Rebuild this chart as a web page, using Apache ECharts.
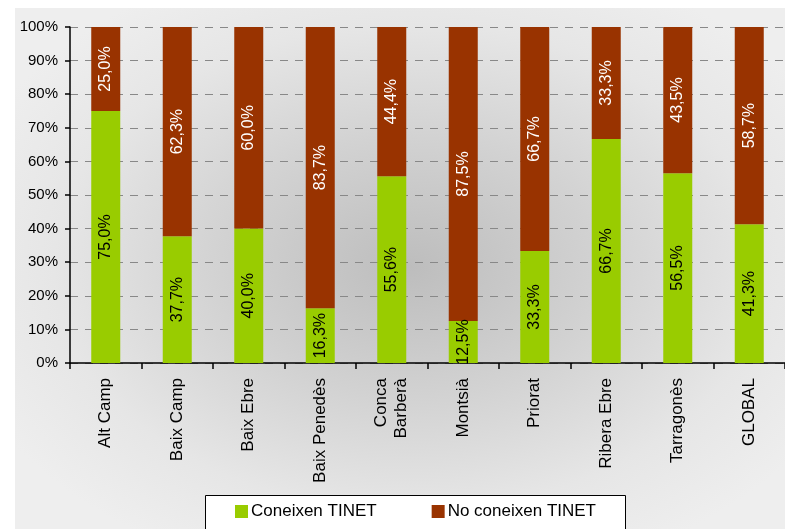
<!DOCTYPE html>
<html>
<head>
<meta charset="utf-8">
<script src="https://cdn.jsdelivr.net/npm/echarts@6/dist/echarts.min.js"></script>
<style>
  html, body { margin: 0; padding: 0; background: #ffffff; }
  #wrap { position: relative; width: 785px; height: 529px; overflow: hidden; }
  #panel { position: absolute; left: 15px; top: 8px; width: 790px; height: 540px;
    background: radial-gradient(ellipse 60% 60% at 50% 48%, #bdbdbd 0%, #d2d2d2 40%, #e6e6e6 75%, #eeeeee 100%); }
  #chart { position: absolute; left: 0; top: 0; width: 785px; height: 529px; }
</style>
</head>
<body>
<div id="wrap">
  <div id="panel"></div>
  <div id="chart"></div>
</div>
<script>
const categories = ['Alt Camp', 'Baix Camp', 'Baix Ebre', 'Baix Penedès', 'Conca\nBarberà', 'Montsià', 'Priorat', 'Ribera Ebre', 'Tarragonès', 'GLOBAL'];
const coneixen = [75.0, 37.7, 40.0, 16.3, 55.6, 12.5, 33.3, 66.7, 56.5, 41.3];
const noConeixen = [25.0, 62.3, 60.0, 83.7, 44.4, 87.5, 66.7, 33.3, 43.5, 58.7];
const yTicks = [0, 10, 20, 30, 40, 50, 60, 70, 80, 90, 100];

const FONT = '"Liberation Sans", Arial, sans-serif';
const fmt = p => p.value.toFixed(1).replace('.', ',') + '%';

const chart = echarts.init(document.getElementById('chart'), null, { renderer: 'canvas' });
chart.setOption({
  backgroundColor: 'transparent',
  animation: false,
  textStyle: { fontFamily: FONT },
  grid: { left: 70, top: 27, width: 720, height: 336, containLabel: false },
  graphic: [{
    type: 'rect', z: 0, silent: true,
    shape: { x: 205.5, y: 495.5, width: 420, height: 40 },
    style: { fill: '#ffffff', stroke: '#000000', lineWidth: 1 }
  }],
  legend: {
    z: 10,
    left: 235, top: 503, padding: 0,
    itemWidth: 13, itemHeight: 13, itemGap: 55,
    icon: 'rect',
    textStyle: { fontFamily: FONT, fontSize: 17, color: '#000', padding: [0, 0, 0, -2] },
    data: ['Coneixen TINET', 'No coneixen TINET']
  },
  xAxis: {
    type: 'category',
    data: categories,
    axisLine: { lineStyle: { color: '#000', width: 1.5 } },
    axisTick: { show: true, alignWithLabel: false, length: 6, lineStyle: { color: '#000', width: 1.5 } },
    axisLabel: { rotate: 90, margin: 15, fontSize: 17, color: '#000', fontFamily: FONT, lineHeight: 20, interval: 0 },
    splitLine: { show: false }
  },
  yAxis: {
    type: 'value',
    min: 0, max: 100, interval: 10,
    axisLine: { show: true, lineStyle: { color: '#000', width: 1.5 } },
    axisTick: { show: true, length: 5, lineStyle: { color: '#000', width: 1.5 } },
    axisLabel: { fontSize: 15, color: '#000', fontFamily: FONT, margin: 12,
      formatter: v => yTicks.includes(v) ? v + '%' : '' },
    splitLine: { show: true, lineStyle: { color: '#888888', type: [8, 7], width: 1.2 } }
  },
  series: [
    {
      name: 'Coneixen TINET', type: 'bar', stack: 'total', barWidth: 29,
      data: coneixen,
      itemStyle: { color: '#99CC00' },
      label: { show: true, position: 'inside', rotate: 90, align: 'center', verticalAlign: 'middle',
        formatter: fmt, color: '#000', fontSize: 16, fontFamily: FONT, textBorderWidth: 0 }
    },
    {
      name: 'No coneixen TINET', type: 'bar', stack: 'total', barWidth: 29,
      data: noConeixen,
      itemStyle: { color: '#993300' },
      label: { show: true, position: 'inside', rotate: 90, align: 'center', verticalAlign: 'middle',
        formatter: fmt, color: '#fff', fontSize: 16, fontFamily: FONT, textBorderWidth: 0 }
    }
  ]
});
</script>
</body>
</html>
